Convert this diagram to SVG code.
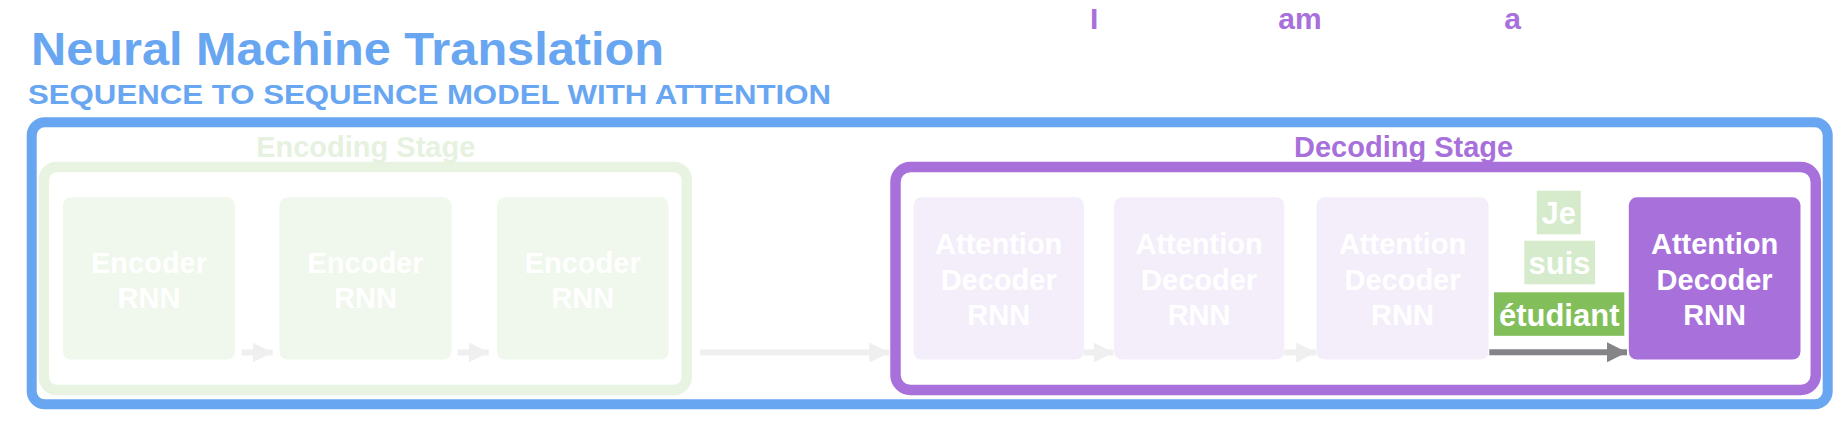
<svg xmlns="http://www.w3.org/2000/svg" width="1834" height="424" viewBox="0 0 1834 424">
  <defs>
    <style>
      text { font-family: "Liberation Sans", Arial, Helvetica, sans-serif; font-weight: bold; }
      .title { fill: #68A6F2; }
      .node-txt { font-size: 29px; fill: #FFFFFF; text-anchor: middle; }
      .word-txt { font-size: 31px; fill: #FFFFFF; text-anchor: middle; }
      .top-word { font-size: 30px; fill: #A870DB; text-anchor: middle; }
      .enc-box { fill: #F0F7EC; }
      .dec-box { fill: #F4EEFB; }
      .dec-active { fill: #A870DB; }
      .conn-light { stroke: #EFEFEF; stroke-width: 6; fill: none; }
      .conn-dark { stroke: #848489; stroke-width: 6; fill: none; }
    </style>
    <marker id="ah-light" markerUnits="userSpaceOnUse" markerWidth="20" markerHeight="20" viewBox="0 0 20 20" refX="20" refY="10" orient="auto">
      <path d="M0,0 L20,10 L0,20 Z" fill="#EFEFEF"/>
    </marker>
    <marker id="ah-dark" markerUnits="userSpaceOnUse" markerWidth="20" markerHeight="20" viewBox="0 0 20 20" refX="20" refY="10" orient="auto">
      <path d="M0,0 L20,10 L0,20 Z" fill="#848489"/>
    </marker>
  </defs>

  <rect width="1834" height="424" fill="#FFFFFF"/>

  <!-- Titles -->
  <g id="titles">
    <text class="title" x="31" y="64.5" font-size="47" textLength="633" lengthAdjust="spacingAndGlyphs">Neural Machine Translation</text>
    <text class="title" x="28" y="103.5" font-size="27.5" textLength="803" lengthAdjust="spacingAndGlyphs">SEQUENCE TO SEQUENCE MODEL WITH ATTENTION</text>
  </g>

  <!-- Output words on top -->
  <g id="output-words">
    <text class="top-word" x="1094.2" y="29.3">I</text>
    <text class="top-word" x="1300" y="29.3">am</text>
    <text class="top-word" x="1512.5" y="29.3">a</text>
  </g>

  <!-- Containers -->
  <g id="model-frame">
    <rect x="31.7" y="122.3" width="1796" height="282" rx="13" fill="none" stroke="#68A6F2" stroke-width="10"/>
  </g>

  <g id="encoding-stage">
    <rect x="43.8" y="167" width="643" height="223" rx="13" fill="none" stroke="#E8F3E2" stroke-width="10.5"/>
    <text x="365.7" y="156.7" font-size="29" fill="#E6F2DF" text-anchor="middle">Encoding Stage</text>
  </g>

  <g id="decoding-stage">
    <rect x="895.5" y="167" width="920.3" height="223" rx="15" fill="none" stroke="#A870DB" stroke-width="10.5"/>
    <text x="1403.6" y="156.7" font-size="29" fill="#A870DB" text-anchor="middle">Decoding Stage</text>
  </g>

  <!-- Encoder nodes -->
  <g id="encoder-1">
    <rect class="enc-box" x="63" y="197.3" width="172" height="162.2" rx="8"/>
    <text class="node-txt" x="149" y="272.7">Encoder</text>
    <text class="node-txt" x="149" y="307.7">RNN</text>
  </g>
  <g id="encoder-2">
    <rect class="enc-box" x="279.5" y="197.3" width="172" height="162.2" rx="8"/>
    <text class="node-txt" x="365.5" y="272.7">Encoder</text>
    <text class="node-txt" x="365.5" y="307.7">RNN</text>
  </g>
  <g id="encoder-3">
    <rect class="enc-box" x="497" y="197.3" width="171.5" height="162.2" rx="8"/>
    <text class="node-txt" x="582.7" y="272.7">Encoder</text>
    <text class="node-txt" x="582.7" y="307.7">RNN</text>
  </g>

  <!-- Decoder nodes -->
  <g id="decoder-1">
    <rect class="dec-box" x="913.5" y="197.3" width="170.5" height="162.2" rx="8"/>
    <text class="node-txt" x="998.7" y="254.4">Attention</text>
    <text class="node-txt" x="998.7" y="289.8">Decoder</text>
    <text class="node-txt" x="998.7" y="325">RNN</text>
  </g>
  <g id="decoder-2">
    <rect class="dec-box" x="1114" y="197.3" width="170.3" height="162.2" rx="8"/>
    <text class="node-txt" x="1199.1" y="254.4">Attention</text>
    <text class="node-txt" x="1199.1" y="289.8">Decoder</text>
    <text class="node-txt" x="1199.1" y="325">RNN</text>
  </g>
  <g id="decoder-3">
    <rect class="dec-box" x="1316.5" y="197.3" width="172" height="162.2" rx="8"/>
    <text class="node-txt" x="1402.5" y="254.4">Attention</text>
    <text class="node-txt" x="1402.5" y="289.8">Decoder</text>
    <text class="node-txt" x="1402.5" y="325">RNN</text>
  </g>
  <g id="decoder-4">
    <rect class="dec-active" x="1628.8" y="197.3" width="171.7" height="162.2" rx="8"/>
    <text class="node-txt" x="1714.6" y="254.4">Attention</text>
    <text class="node-txt" x="1714.6" y="289.8">Decoder</text>
    <text class="node-txt" x="1714.6" y="325">RNN</text>
  </g>

  <!-- Input words -->
  <g id="word-je">
    <rect x="1536.7" y="190.7" width="44" height="43.6" fill="#D5EBCB"/>
    <text class="word-txt" x="1558.7" y="223.5">Je</text>
  </g>
  <g id="word-suis">
    <rect x="1524.3" y="240.7" width="70.7" height="43.6" fill="#D5EBCB"/>
    <text class="word-txt" x="1559.6" y="274">suis</text>
  </g>
  <g id="word-etudiant">
    <rect x="1494" y="292.3" width="130.3" height="43.5" fill="#82BF5A"/>
    <text class="word-txt" x="1559.2" y="325.5">étudiant</text>
  </g>

  <!-- Connectors -->
  <g id="connectors">
    <line class="conn-light" x1="241.7" y1="352.5" x2="272.7" y2="352.5" marker-end="url(#ah-light)"/>
    <line class="conn-light" x1="457.7" y1="352.5" x2="488.7" y2="352.5" marker-end="url(#ah-light)"/>
    <line class="conn-light" x1="700" y1="352.5" x2="889.3" y2="352.5" marker-end="url(#ah-light)"/>
    <line class="conn-light" x1="1084" y1="352.5" x2="1113.5" y2="352.5" marker-end="url(#ah-light)"/>
    <line class="conn-light" x1="1284.3" y1="352.5" x2="1316.2" y2="352.5" marker-end="url(#ah-light)"/>
    <line class="conn-dark" x1="1489.3" y1="352.3" x2="1627" y2="352.3" marker-end="url(#ah-dark)"/>
  </g>
</svg>
